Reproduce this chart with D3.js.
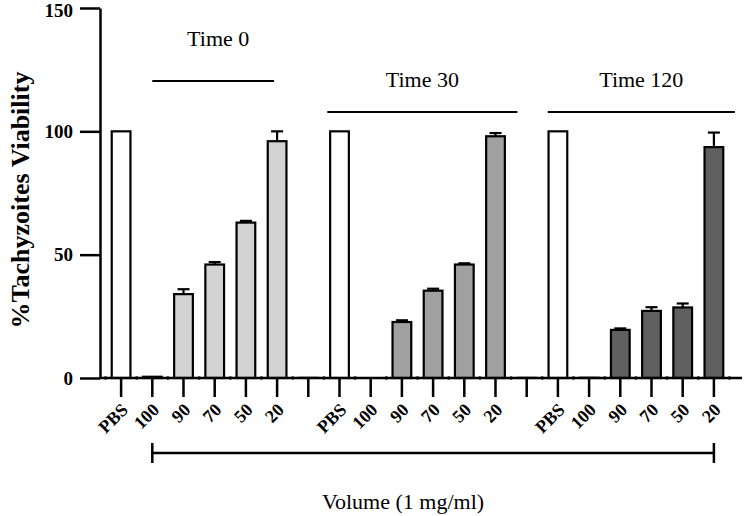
<!DOCTYPE html>
<html>
<head>
<meta charset="utf-8">
<script src="https://cdn.jsdelivr.net/npm/d3@7"></script>
<style>
  body { margin: 0; background: #fff; }
  text { font-family: "Liberation Serif", "Times New Roman", serif; }
</style>
</head>
<body>
<div id="chart"></div>
<script>
// Data
var groups = ["Time 0", "Time 30", "Time 120"];
var doses = ["PBS", "100", "90", "70", "50", "20"];
var means0 = [100, 0.5, 34, 46, 63, 96];
var errs0 = [0, 0, 2, 1, 0.7, 4];
var means30 = [100, 0, 22.7, 35.4, 46, 98];
var errs30 = [0, 0, 0.7, 0.8, 0.5, 1.3];
var means120 = [100, 0.3, 19.5, 27.2, 28.6, 93.6];
var errs120 = [0, 0, 0.6, 1.5, 1.6, 5.9];
var gapValue = 0.3;
var fills = ["#d3d3d3", "#a0a0a0", "#606060"];
var yTicks = [0, 50, 100, 150];

var svgWidth = 749;
var svgHeight = 516;

var svg = d3.select("#chart")
  .append("svg")
  .attr("width", svgWidth)
  .attr("height", svgHeight);

// build category list: 6 doses per time, with an empty slot between groups
var allMeans = [means0, means30, means120];
var allErrs = [errs0, errs30, errs120];
var bars = [];
groups.forEach(function(g, gi) {
  doses.forEach(function(d, di) {
    bars.push({
      key: gi + "-" + d,
      label: d,
      group: gi,
      value: allMeans[gi][di],
      err: allErrs[gi][di],
      fill: d === "PBS" ? "#fff" : fills[gi],
      gap: false
    });
  });
  if (gi < groups.length - 1) {
    bars.push({ key: "gap" + gi, label: "", group: gi, value: gapValue, err: 0, fill: "#ddd", gap: true });
  }
});

var x = d3.scaleBand()
  .domain(bars.map(d => d.key))
  .range([105.5, 729.5])
  .paddingInner(0.4)
  .paddingOuter(0.2);

var y = d3.scaleLinear()
  .domain([0, 150])
  .range([378, 8]);

// y axis
var yAxis = svg.append("g")
  .attr("transform", "translate(100,0)")
  .call(d3.axisLeft(y).tickValues(yTicks).tickSize(20).tickSizeOuter(0));
yAxis.select(".domain").attr("stroke-width", 2.5);
yAxis.selectAll(".tick line").attr("stroke-width", 2.5);
yAxis.selectAll(".tick text")
  .attr("font-family", "Liberation Serif")
  .attr("font-weight", "bold")
  .attr("font-size", "19px")
  .attr("fill", "#000")
  .attr("x", -27)
  .attr("dy", d => d === 150 ? "0.45em" : "0.32em");

svg.append("text")
  .attr("transform", "translate(29,200) rotate(-90)")
  .attr("text-anchor", "middle")
  .attr("font-weight", "bold")
  .attr("font-size", "26px")
  .text("%Tachyzoites Viability");

// bars
svg.selectAll("rect.bar")
  .data(bars)
  .enter()
  .append("rect")
  .attr("class", "bar")
  .attr("x", d => x(d.key))
  .attr("y", d => y(d.value))
  .attr("width", x.bandwidth())
  .attr("height", d => y(0) - y(d.value))
  .attr("fill", d => d.fill)
  .attr("stroke", d => d.gap ? "#bbb" : (d.group === 2 && d.label === "100" ? "#999" : "#000"))
  .attr("stroke-width", 2.2);

// error bars (upper only)
var errBars = bars.filter(d => d.err > 0);
svg.selectAll("line.err")
  .data(errBars)
  .enter()
  .append("line")
  .attr("x1", d => x(d.key) + x.bandwidth() / 2)
  .attr("x2", d => x(d.key) + x.bandwidth() / 2)
  .attr("y1", d => y(d.value))
  .attr("y2", d => y(d.value + d.err))
  .attr("stroke", "#000")
  .attr("stroke-width", 2.2);
svg.selectAll("line.cap")
  .data(errBars)
  .enter()
  .append("line")
  .attr("x1", d => x(d.key) + x.bandwidth() / 2 - 6)
  .attr("x2", d => x(d.key) + x.bandwidth() / 2 + 6)
  .attr("y1", d => y(d.value + d.err))
  .attr("y2", d => y(d.value + d.err))
  .attr("stroke", "#000")
  .attr("stroke-width", 2.2);

// x axis
var xAxis = svg.append("g")
  .attr("transform", `translate(0, ${y(0)})`)
  .call(d3.axisBottom(x)
    .tickSize(19)
    .tickSizeOuter(0)
    .tickFormat(k => bars.find(b => b.key === k).label));
xAxis.select(".domain").remove();
xAxis.selectAll(".tick line").attr("stroke-width", 2.5);
xAxis.selectAll(".tick text")
  .attr("font-family", "Liberation Serif")
  .attr("font-weight", "bold")
  .attr("font-size", "18px")
  .attr("fill", "#000")
  .attr("text-anchor", "end")
  .attr("dy", null)
  .attr("y", 0)
  .attr("transform", "translate(8,33) rotate(-45)");

svg.append("line")
  .attr("x1", 100)
  .attr("x2", 742)
  .attr("y1", y(0))
  .attr("y2", y(0))
  .attr("stroke", "#000")
  .attr("stroke-width", 2.5);

// small dots on the baseline between categories
var dotXs = bars.map(d => x(d.key) - x.step() * 0.2);
dotXs.push(x(bars[bars.length - 1].key) + x.bandwidth() + x.step() * 0.2);
svg.selectAll("circle.dot")
  .data(dotXs)
  .enter()
  .append("circle")
  .attr("cx", d => d)
  .attr("cy", y(0))
  .attr("r", 1.8)
  .attr("fill", "#000");

// group headers
var headers = [
  { text: groups[0], from: "0-100", dx1: 0, to: "0-20", dx2: -3, ly: 81, ty: 46 },
  { text: groups[1], from: "gap0", dx1: 19, to: "1-20", dx2: 22, ly: 112, ty: 87 },
  { text: groups[2], from: "gap1", dx1: 21, to: "2-20", dx2: 21, ly: 112, ty: 87 }
];
headers.forEach(function(h) {
  var x1 = x(h.from) + x.bandwidth() / 2 + h.dx1;
  var x2 = x(h.to) + x.bandwidth() / 2 + h.dx2;
  svg.append("line")
    .attr("x1", x1).attr("x2", x2)
    .attr("y1", h.ly).attr("y2", h.ly)
    .attr("stroke", "#000")
    .attr("stroke-width", 2.2);
  svg.append("text")
    .attr("x", (x1 + x2) / 2 + (h.text === "Time 0" ? 5 : 0))
    .attr("y", h.ty)
    .attr("text-anchor", "middle")
    .attr("font-size", "22px")
    .text(h.text);
});

// bottom bracket
var bx1 = x("0-100") + x.bandwidth() / 2;
var bx2 = x("2-20") + x.bandwidth() / 2;
svg.append("path")
  .attr("d", `M${bx1},443 V463 M${bx1},453 H${bx2} M${bx2},443 V463`)
  .attr("fill", "none")
  .attr("stroke", "#000")
  .attr("stroke-width", 2.5);

svg.append("text")
  .attr("x", 403)
  .attr("y", 509)
  .attr("text-anchor", "middle")
  .attr("font-size", "22px")
  .text("Volume (1 mg/ml)");
</script>
</body>
</html>
